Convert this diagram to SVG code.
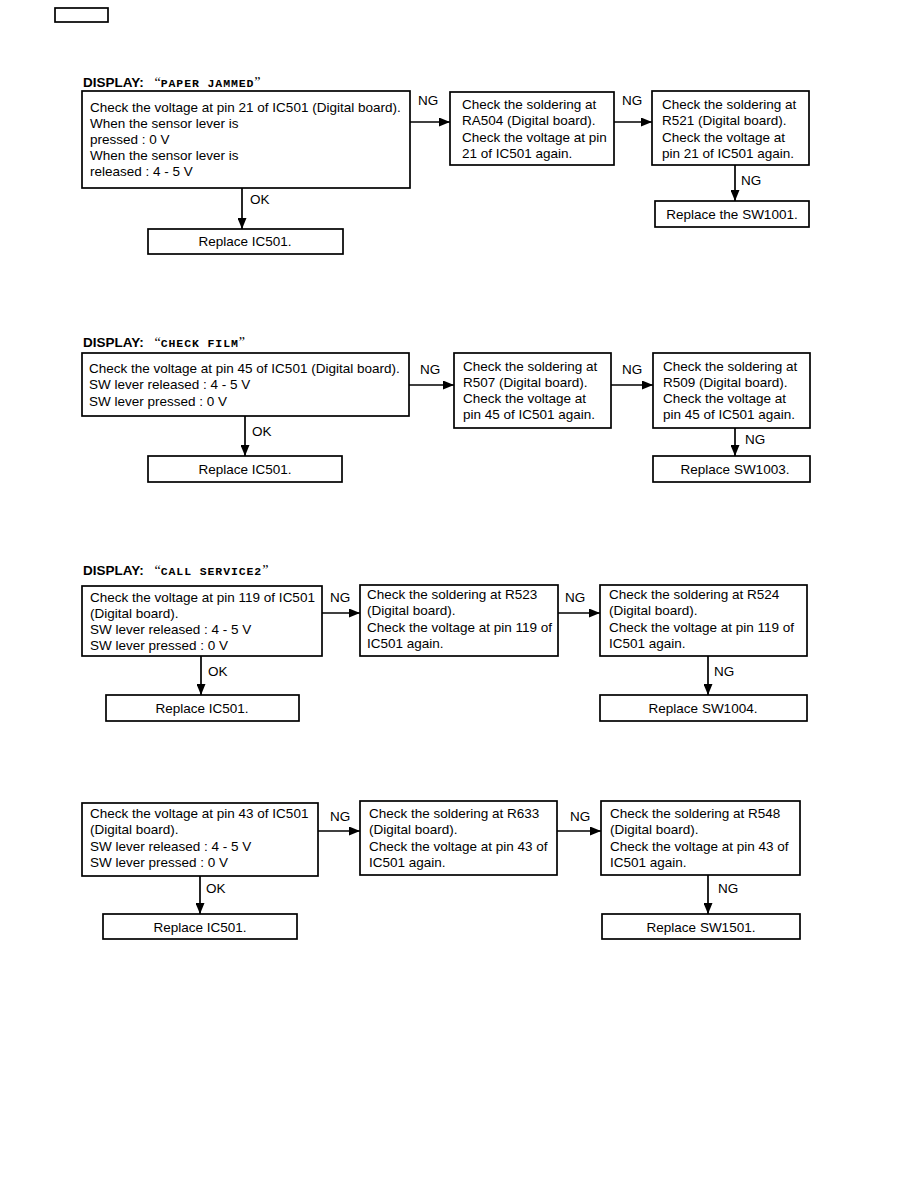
<svg xmlns="http://www.w3.org/2000/svg" width="918" height="1188" viewBox="0 0 918 1188">
<style>
.bx{fill:#fff;stroke:#000;stroke-width:1.7}
.t{font-family:"Liberation Sans",Arial,sans-serif;font-size:13.5px;fill:#000}
.c{text-anchor:middle}
.ttl{font-family:"Liberation Sans",Arial,sans-serif;font-size:13.5px;font-weight:bold;fill:#000}
.mono{font-family:"Liberation Mono","Courier New",monospace;font-size:11.5px;font-weight:bold;letter-spacing:0.9px}
.q{font-family:"Liberation Serif",serif;font-weight:normal;font-size:14px}
.ln{stroke:#000;stroke-width:1.7;fill:none;marker-end:url(#ah)}
</style>
<defs>
<marker id="ah" markerUnits="userSpaceOnUse" markerWidth="11" markerHeight="9" refX="11" refY="4.5" orient="auto">
<path d="M0,0 L11,4.5 L0,9 z" fill="#000"/>
</marker>
</defs>
<rect width="918" height="1188" fill="#fff"/>
<rect x="55" y="8" width="53" height="14" fill="none" stroke="#000" stroke-width="1.7"/>

<!-- Section 1 -->
<text class="ttl" x="83" y="87">DISPLAY: <tspan class="q" dx="7">“</tspan><tspan class="mono">PAPER JAMMED</tspan><tspan class="q">”</tspan></text>
<g id="s1-check">
<rect class="bx" x="82" y="91" width="328" height="97"/>
<text class="t" x="90" y="112">Check the voltage at pin 21 of IC501 (Digital board).</text>
<text class="t" x="90" y="128">When the sensor lever is</text>
<text class="t" x="90" y="144">pressed : 0 V</text>
<text class="t" x="90" y="160">When the sensor lever is</text>
<text class="t" x="90" y="176">released : 4 - 5 V</text>
</g>
<g id="s1-solder1">
<rect class="bx" x="450" y="92" width="164" height="73"/>
<text class="t" x="462" y="109">Check the soldering at</text>
<text class="t" x="462" y="125">RA504 (Digital board).</text>
<text class="t" x="462" y="142">Check the voltage at pin</text>
<text class="t" x="462" y="158">21 of IC501 again.</text>
</g>
<g id="s1-solder2">
<rect class="bx" x="652" y="91" width="157" height="74"/>
<text class="t" x="662" y="109">Check the soldering at</text>
<text class="t" x="662" y="125">R521 (Digital board).</text>
<text class="t" x="662" y="142">Check the voltage at</text>
<text class="t" x="662" y="158">pin 21 of IC501 again.</text>
</g>
<g id="s1-replace-sw">
<rect class="bx" x="655" y="201" width="154" height="26"/>
<text class="t c" x="732" y="219">Replace the SW1001.</text>
</g>
<g id="s1-replace-ic">
<rect class="bx" x="148" y="229" width="195" height="25"/>
<text class="t c" x="245" y="246">Replace IC501.</text>
</g>

<!-- Section 2 -->
<text class="ttl" x="83" y="347">DISPLAY: <tspan class="q" dx="7">“</tspan><tspan class="mono">CHECK FILM</tspan><tspan class="q">”</tspan></text>
<g id="s2-check">
<rect class="bx" x="82" y="353" width="327" height="63"/>
<text class="t" x="89" y="373">Check the voltage at pin 45 of IC501 (Digital board).</text>
<text class="t" x="89" y="389">SW lever released : 4 - 5 V</text>
<text class="t" x="89" y="406">SW lever pressed : 0 V</text>
</g>
<g id="s2-solder1">
<rect class="bx" x="454" y="353" width="157" height="75"/>
<text class="t" x="463" y="371">Check the soldering at</text>
<text class="t" x="463" y="387">R507 (Digital board).</text>
<text class="t" x="463" y="403">Check the voltage at</text>
<text class="t" x="463" y="419">pin 45 of IC501 again.</text>
</g>
<g id="s2-solder2">
<rect class="bx" x="653" y="353" width="157" height="75"/>
<text class="t" x="663" y="371">Check the soldering at</text>
<text class="t" x="663" y="387">R509 (Digital board).</text>
<text class="t" x="663" y="403">Check the voltage at</text>
<text class="t" x="663" y="419">pin 45 of IC501 again.</text>
</g>
<g id="s2-replace-sw">
<rect class="bx" x="653" y="456" width="157" height="26"/>
<text class="t c" x="735" y="474">Replace SW1003.</text>
</g>
<g id="s2-replace-ic">
<rect class="bx" x="148" y="456" width="194" height="26"/>
<text class="t c" x="245" y="474">Replace IC501.</text>
</g>

<!-- Section 3 -->
<text class="ttl" x="83" y="575">DISPLAY: <tspan class="q" dx="7">“</tspan><tspan class="mono">CALL SERVICE2</tspan><tspan class="q">”</tspan></text>
<g id="s3-check">
<rect class="bx" x="82" y="586" width="240" height="70"/>
<text class="t" x="90" y="602">Check the voltage at pin 119 of IC501</text>
<text class="t" x="90" y="618">(Digital board).</text>
<text class="t" x="90" y="634">SW lever released : 4 - 5 V</text>
<text class="t" x="90" y="650">SW lever pressed : 0 V</text>
</g>
<g id="s3-solder1">
<rect class="bx" x="360" y="585" width="198" height="71"/>
<text class="t" x="367" y="599">Check the soldering at R523</text>
<text class="t" x="367" y="615">(Digital board).</text>
<text class="t" x="367" y="632">Check the voltage at pin 119 of</text>
<text class="t" x="367" y="648">IC501 again.</text>
</g>
<g id="s3-solder2">
<rect class="bx" x="600" y="585" width="207" height="71"/>
<text class="t" x="609" y="599">Check the soldering at R524</text>
<text class="t" x="609" y="615">(Digital board).</text>
<text class="t" x="609" y="632">Check the voltage at pin 119 of</text>
<text class="t" x="609" y="648">IC501 again.</text>
</g>
<g id="s3-replace-sw">
<rect class="bx" x="600" y="695" width="207" height="26"/>
<text class="t c" x="703" y="713">Replace SW1004.</text>
</g>
<g id="s3-replace-ic">
<rect class="bx" x="106" y="695" width="193" height="26"/>
<text class="t c" x="202" y="713">Replace IC501.</text>
</g>

<!-- Section 4 -->
<g id="s4-check">
<rect class="bx" x="82" y="803" width="236" height="73"/>
<text class="t" x="90" y="818">Check the voltage at pin 43 of IC501</text>
<text class="t" x="90" y="834">(Digital board).</text>
<text class="t" x="90" y="851">SW lever released : 4 - 5 V</text>
<text class="t" x="90" y="867">SW lever pressed : 0 V</text>
</g>
<g id="s4-solder1">
<rect class="bx" x="360" y="801" width="197" height="74"/>
<text class="t" x="369" y="818">Check the soldering at R633</text>
<text class="t" x="369" y="834">(Digital board).</text>
<text class="t" x="369" y="851">Check the voltage at pin 43 of</text>
<text class="t" x="369" y="867">IC501 again.</text>
</g>
<g id="s4-solder2">
<rect class="bx" x="601" y="801" width="199" height="74"/>
<text class="t" x="610" y="818">Check the soldering at R548</text>
<text class="t" x="610" y="834">(Digital board).</text>
<text class="t" x="610" y="851">Check the voltage at pin 43 of</text>
<text class="t" x="610" y="867">IC501 again.</text>
</g>
<g id="s4-replace-sw">
<rect class="bx" x="602" y="914" width="198" height="25"/>
<text class="t c" x="701" y="932">Replace SW1501.</text>
</g>
<g id="s4-replace-ic">
<rect class="bx" x="103" y="914" width="194" height="25"/>
<text class="t c" x="200" y="932">Replace IC501.</text>
</g>

<g id="connectors">
<line class="ln" x1="410" y1="122" x2="450" y2="122"/>
<line class="ln" x1="614" y1="122" x2="652" y2="122"/>
<line class="ln" x1="735" y1="165" x2="735" y2="201"/>
<line class="ln" x1="242" y1="188" x2="242" y2="229"/>
<line class="ln" x1="409" y1="385" x2="454" y2="385"/>
<line class="ln" x1="611" y1="385" x2="653" y2="385"/>
<line class="ln" x1="735" y1="428" x2="735" y2="456"/>
<line class="ln" x1="245" y1="416" x2="245" y2="456"/>
<line class="ln" x1="322" y1="613" x2="360" y2="613"/>
<line class="ln" x1="558" y1="613" x2="600" y2="613"/>
<line class="ln" x1="708" y1="656" x2="708" y2="695"/>
<line class="ln" x1="201" y1="656" x2="201" y2="695"/>
<line class="ln" x1="318" y1="831" x2="360" y2="831"/>
<line class="ln" x1="557" y1="831" x2="601" y2="831"/>
<line class="ln" x1="708" y1="875" x2="708" y2="914"/>
<line class="ln" x1="200" y1="876" x2="200" y2="914"/>
<text class="t" x="418" y="105">NG</text>
<text class="t" x="622" y="105">NG</text>
<text class="t" x="741" y="185">NG</text>
<text class="t" x="250" y="204">OK</text>
<text class="t" x="420" y="374">NG</text>
<text class="t" x="622" y="374">NG</text>
<text class="t" x="745" y="444">NG</text>
<text class="t" x="252" y="436">OK</text>
<text class="t" x="330" y="602">NG</text>
<text class="t" x="565" y="602">NG</text>
<text class="t" x="714" y="676">NG</text>
<text class="t" x="208" y="676">OK</text>
<text class="t" x="330" y="821">NG</text>
<text class="t" x="570" y="821">NG</text>
<text class="t" x="718" y="893">NG</text>
<text class="t" x="206" y="893">OK</text>
</g>
</svg>
